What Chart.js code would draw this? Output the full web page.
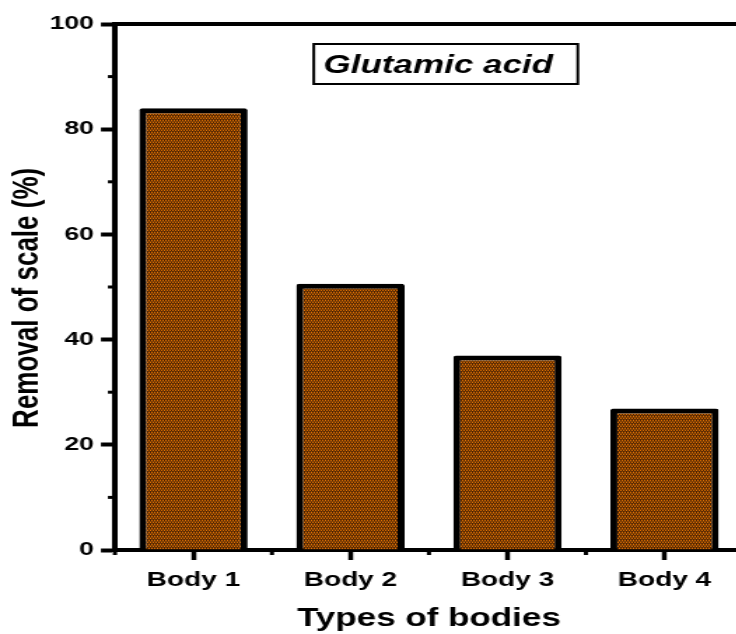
<!DOCTYPE html>
<html>
<head>
<meta charset="utf-8">
<script src="https://cdn.jsdelivr.net/npm/chart.js@4"></script>
<style>
  html, body { margin: 0; padding: 0; background: #fff; overflow: hidden; width: 736px; height: 634px; }
  #wrap { position: absolute; left: 0; top: 0; width: 545px; height: 634px; transform: scaleX(1.4); transform-origin: 0 0; }
</style>
</head>
<body>
<div id="wrap"><canvas id="c" width="545" height="634"></canvas></div>
<script>
const categories = ['Body 1', 'Body 2', 'Body 3', 'Body 4'];
const removal = [84.0, 50.6, 37.0, 26.9];
const yTickValues = [0, 20, 40, 60, 80, 100];
const yMinorValues = [10, 30, 50, 70, 90];
const annotationText = 'Glutamic acid';
const xTitle = 'Types of bodies';
const yTitle = 'Removal of scale (%)';

const FONT = "'Liberation Sans', Arial, sans-serif";

function makePattern() {
  const p = document.createElement('canvas');
  p.width = 4; p.height = 4;
  const g = p.getContext('2d');
  const orange = '#e07204', dark = '#4e2200', brown = '#844204';
  const rows = [
    [orange, dark, orange, dark],
    [brown, brown, brown, brown],
    [dark, orange, dark, orange],
    [brown, dark, brown, dark]
  ];
  for (let y = 0; y < 4; y++) for (let x = 0; x < 4; x++) {
    g.fillStyle = rows[y][x]; g.fillRect(x, y, 1, 1);
  }
  return document.getElementById('c').getContext('2d').createPattern(p, 'repeat');
}

const extras = {
  id: 'extras',
  afterDraw(chart) {
    const ctx = chart.ctx;
    const a = chart.chartArea;
    const ys = chart.scales.y, xs = chart.scales.x;
    ctx.save();
    ctx.strokeStyle = '#000';
    // top & right frame
    ctx.lineWidth = 4;
    ctx.beginPath();
    ctx.moveTo(a.left - 2, a.top); ctx.lineTo(a.right, a.top); ctx.lineTo(a.right, a.bottom);
    ctx.stroke();
    // y minor ticks
    ctx.lineWidth = 3;
    yMinorValues.forEach(v => {
      const py = ys.getPixelForValue(v);
      ctx.beginPath(); ctx.moveTo(a.left - 5, py); ctx.lineTo(a.left, py); ctx.stroke();
    });
    // x minor ticks at category boundaries
    for (let i = -0.5; i <= categories.length - 0.5; i += 1) {
      const px = xs.getPixelForValue(i);
      ctx.beginPath(); ctx.moveTo(px, a.bottom); ctx.lineTo(px, a.bottom + 5); ctx.stroke();
    }
    // annotation box
    const bx = a.left + 142, by = 44, bw = 188.6, bh = 40;
    ctx.lineWidth = 2;
    ctx.strokeRect(bx, by, bw, bh);
    ctx.fillStyle = '#000';
    ctx.font = 'italic bold 25px ' + FONT;
    ctx.textBaseline = 'alphabetic';
    ctx.textAlign = 'left';
    ctx.fillText(annotationText, bx + 7, by + 29);
    ctx.restore();
  }
};

new Chart(document.getElementById('c'), {
  type: 'bar',
  data: {
    labels: categories,
    datasets: [{
      data: removal,
      backgroundColor: makePattern(),
      borderColor: '#000',
      borderWidth: 5,
      borderRadius: 2,
      borderSkipped: 'start',
      categoryPercentage: 1.0,
      barPercentage: 0.69
    }]
  },
  options: {
    responsive: false,
    animation: false,
    devicePixelRatio: 1,
    layout: { padding: { top: 24, right: 14.3, bottom: 0, left: 0 } },
    plugins: { legend: { display: false }, tooltip: { enabled: false } },
    scales: {
      x: {
        grid: { display: true, offset: false, drawOnChartArea: false, tickLength: 10, tickWidth: 3.5, tickColor: '#000' },
        border: { display: true, color: '#000', width: 4 },
        ticks: { color: '#000', padding: 8, font: { family: FONT, size: 20, weight: 'bold' }, maxRotation: 0 },
        title: { display: true, text: xTitle, color: '#000', padding: { top: 0, bottom: 0 }, font: { family: FONT, size: 25, weight: 'bold' } },
        afterFit(s) { s.height = 84; }
      },
      y: {
        min: yTickValues[0],
        max: yTickValues[yTickValues.length - 1],
        afterBuildTicks(s) { s.ticks = yTickValues.map(v => ({ value: v })); },
        grid: { display: true, drawOnChartArea: false, tickLength: 10, tickWidth: 4, tickColor: '#000' },
        border: { display: true, color: '#000', width: 4 },
        ticks: { color: '#000', padding: 5, font: { family: FONT, size: 19, weight: 'bold' } },
        title: { display: true, text: yTitle + '   ', color: '#000', padding: { top: 4.5, bottom: 0 }, font: { family: FONT, size: 26, weight: 'bold' } },
        afterFit(s) { s.width = 82.1; }
      }
    }
  },
  plugins: [extras]
});
</script>
</body>
</html>
